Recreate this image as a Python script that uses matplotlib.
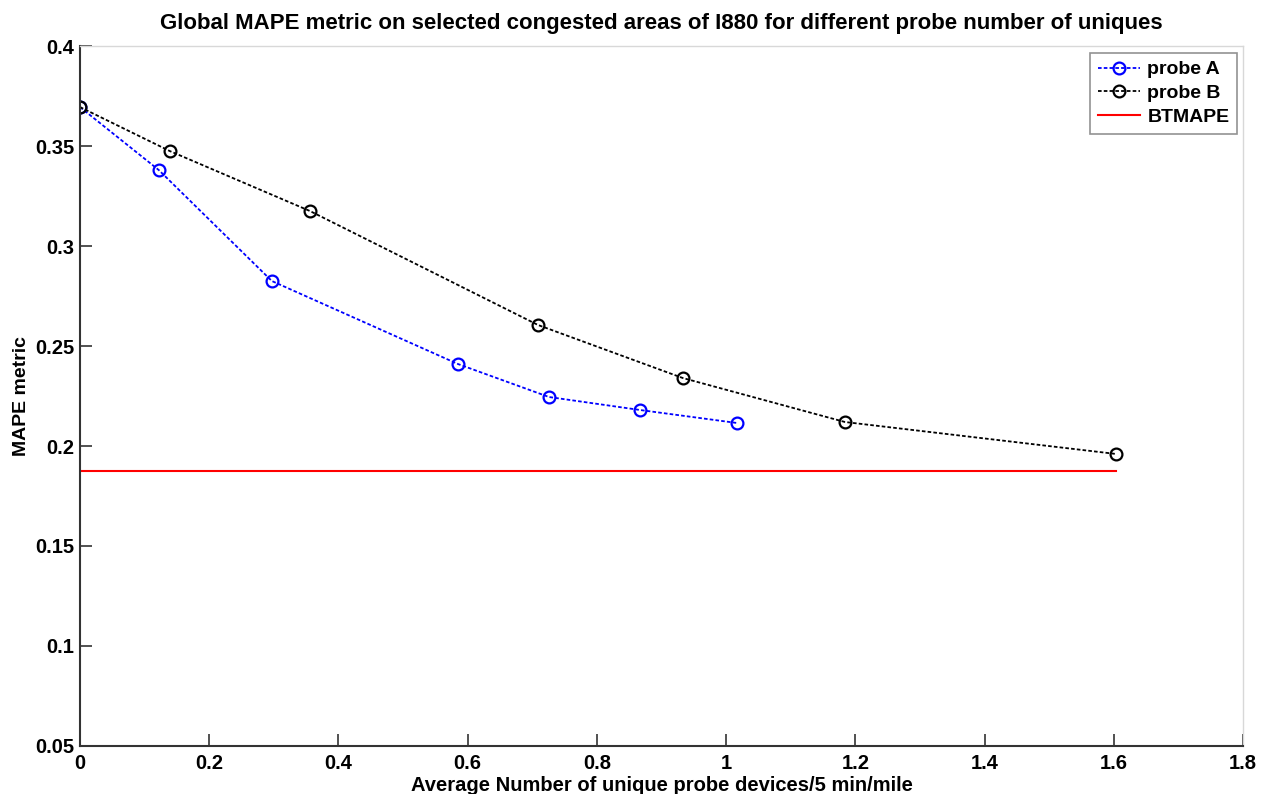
import matplotlib
matplotlib.use("Agg")
import matplotlib.pyplot as plt

plt.rcParams["font.family"] = ["Liberation Sans", "DejaVu Sans"]
plt.rcParams["font.weight"] = "bold"

# data
probe_a_x = [0.0, 0.122, 0.297, 0.585, 0.726, 0.867, 1.017]
probe_a_y = [0.3695, 0.338, 0.2825, 0.241, 0.2245, 0.218, 0.2115]

probe_b_x = [0.0, 0.139, 0.356, 0.709, 0.933, 1.184, 1.604]
probe_b_y = [0.3695, 0.3475, 0.3175, 0.2605, 0.234, 0.212, 0.196]

bt_x = [0.0, 1.604]
bt_y = [0.1875, 0.1875]

x_ticks = [0, 0.2, 0.4, 0.6, 0.8, 1.0, 1.2, 1.4, 1.6, 1.8]
x_labels = ["0", "0.2", "0.4", "0.6", "0.8", "1", "1.2", "1.4", "1.6", "1.8"]
y_ticks = [0.05, 0.1, 0.15, 0.2, 0.25, 0.3, 0.35, 0.4]
y_labels = ["0.05", "0.1", "0.15", "0.2", "0.25", "0.3", "0.35", "0.4"]

fig = plt.figure(figsize=(12.69, 7.94), dpi=100)
ax = fig.add_axes([0.063, 0.0605, 0.9165, 0.8815])

ax.plot(probe_a_x, probe_a_y, linestyle=(0, (2, 1.2)), color="#0000ff", lw=1.3,
        marker="o", ms=8.5, mfc="none", mec="#0000ff", mew=1.6, label="probe A")
ax.plot(probe_b_x, probe_b_y, linestyle=(0, (2, 1.2)), color="black", lw=1.3,
        marker="o", ms=8.5, mfc="none", mec="black", mew=1.6, label="probe B")
ax.plot(bt_x, bt_y, color="#ff0000", lw=1.5, label="BTMAPE")

ax.set_xlim(0, 1.8)
ax.set_ylim(0.05, 0.4)
ax.set_xticks(x_ticks)
ax.set_xticklabels(x_labels)
ax.set_yticks(y_ticks)
ax.set_yticklabels(y_labels)
ax.tick_params(direction="in", length=8.5, width=1.2, labelsize=14.5,
               color="#333333")
ax.tick_params(axis="x", pad=6)
ax.tick_params(axis="y", pad=4)

for side in ["left", "bottom"]:
    ax.spines[side].set_linewidth(1.5)
    ax.spines[side].set_color("#333333")
for side in ["top", "right"]:
    ax.spines[side].set_linewidth(1.0)
    ax.spines[side].set_color("#d8d8d8")

ax.set_title("Global MAPE metric on selected congested areas of I880 for different probe number of uniques",
             fontsize=16, fontweight="bold", pad=12)
ax.set_xlabel("Average Number of unique probe devices/5 min/mile", fontsize=14.5,
              fontweight="bold", labelpad=2)
ax.set_ylabel("MAPE metric", fontsize=14, fontweight="bold", labelpad=4)

leg = ax.legend(loc="upper right", fontsize=14, frameon=True, fancybox=False,
                handlelength=2.2, handletextpad=0.35, borderpad=0.4,
                labelspacing=0.32, borderaxespad=0,
                bbox_to_anchor=(0.995, 0.99))
leg.get_frame().set_edgecolor("#777777")
leg.get_frame().set_linewidth(1.2)

fig.savefig("out.png", dpi=100)
